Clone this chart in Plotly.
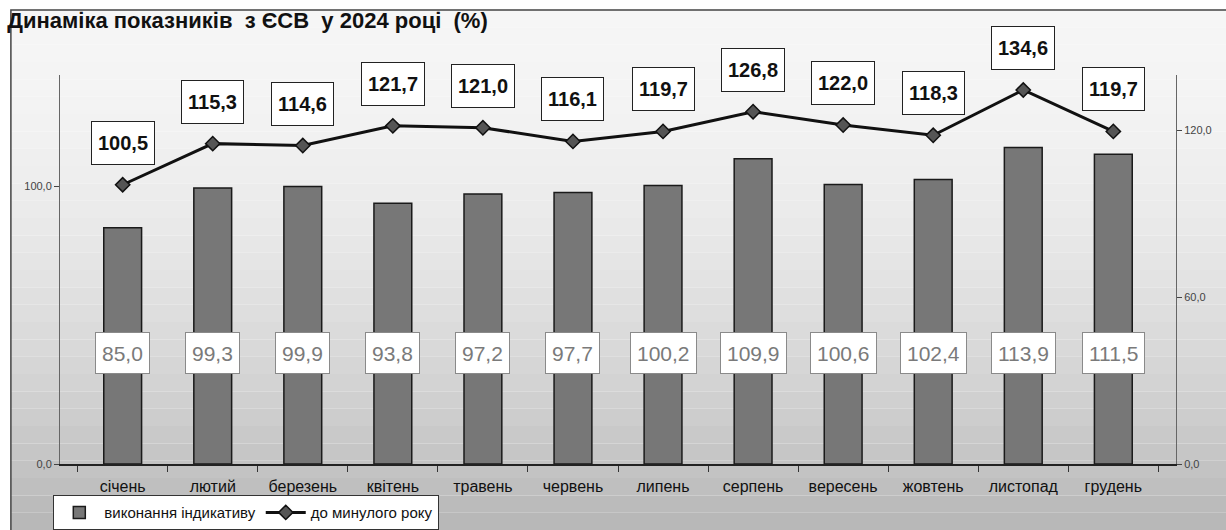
import plotly.graph_objects as go

months = ['січень', 'лютий', 'березень', 'квітень', 'травень', 'червень',
          'липень', 'серпень', 'вересень', 'жовтень', 'листопад', 'грудень']
indicative = [85.0, 99.3, 99.9, 93.8, 97.2, 97.7, 100.2, 109.9, 100.6, 102.4, 113.9, 111.5]
prev_year = [100.5, 115.3, 114.6, 121.7, 121.0, 116.1, 119.7, 126.8, 122.0, 118.3, 134.6, 119.7]

FONT = 'Arial, Liberation Sans, sans-serif'

def fmt(v):
    return f'{v:.1f}'.replace('.', ',')

fig = go.Figure()

# stepped grey background, near white at the top, darker at the bottom
top, bottom = 1.167, -0.17
n = 30
for i in range(n):
    t = i / (n - 1)
    g = int(246 - 62 * t ** 1.8)
    fig.add_shape(type='rect', xref='paper', yref='paper', layer='below',
                  x0=-0.044, x1=1.05,
                  y0=top - (i + 1) * (top - bottom) / n, y1=top - i * (top - bottom) / n,
                  line_width=0, fillcolor=f'rgb({g},{g},{g})')
fig.add_shape(type='rect', xref='paper', yref='paper', layer='above',
              x0=-0.044, x1=1.06, y0=bottom - 0.02, y1=top,
              line=dict(color='#444', width=1.5), fillcolor='rgba(0,0,0,0)')

fig.add_trace(go.Bar(x=months, y=indicative, name='виконання індикативу',
                     width=0.42, marker=dict(color='#777777', line=dict(color='#1a1a1a', width=1.5))))
fig.add_trace(go.Scatter(x=months, y=prev_year, name='до минулого року', yaxis='y2',
                         mode='lines+markers', line=dict(color='#111', width=3),
                         marker=dict(symbol='diamond', size=11, color='#555',
                                     line=dict(color='#111', width=1.5))))

for m, v in zip(months, indicative):
    fig.add_annotation(x=m, y=40, text=fmt(v), showarrow=False, height=28,
                       font=dict(family=FONT, size=21, color='#7a7a7a'),
                       bgcolor='white', bordercolor='#8a8a8a', borderwidth=1, borderpad=6)

for m, v in zip(months, prev_year):
    fig.add_annotation(x=m, y=v, yref='y2', yshift=42, text=f'<b>{fmt(v)}</b>', showarrow=False,
                       height=30, font=dict(family=FONT, size=20, color='#111'),
                       bgcolor='white', bordercolor='#222', borderwidth=1, borderpad=6)

fig.update_layout(
    width=1226, height=530,
    margin=dict(l=60, r=50, t=75, b=66, autoexpand=False),
    paper_bgcolor='white', plot_bgcolor='rgba(0,0,0,0)',
    separators=', ',
    font=dict(family=FONT, color='#222'),
    title=dict(text='<b>Динаміка показників  з ЄСВ  у 2024 році  (%)</b>',
               x=0.006, xanchor='left', y=0.962, yanchor='middle',
               font=dict(size=22, color='#111')),
    showlegend=True,
    legend=dict(orientation='h', x=-0.006, xanchor='left', y=bottom, yanchor='bottom',
                bgcolor='white', bordercolor='#333', borderwidth=1,
                font=dict(size=15, color='#111'), itemwidth=40, tracegroupgap=0),
    bargap=0.5,
    xaxis=dict(tickson='boundaries', ticks='outside', ticklen=6, tickcolor='#333',
               showline=True, linecolor='#222', linewidth=1.5, showgrid=False,
               ticklabelstandoff=7, tickfont=dict(size=16, color='#111')),
    yaxis=dict(range=[0, 140], dtick=100, tickformat='.1f', ticks='outside', ticklen=5,
               showline=True, linecolor='#666', showgrid=False, zeroline=False,
               tickfont=dict(size=11, color='#444')),
    yaxis2=dict(range=[0, 140], dtick=60, tickformat='.1f', ticks='outside', ticklen=5,
                overlaying='y', side='right', showline=True, linecolor='#666',
                showgrid=False, zeroline=False, tickfont=dict(size=11, color='#444')),
)

fig.write_html('out.html', config={'displayModeBar': False},
               post_script="document.body.style.margin='0';")
